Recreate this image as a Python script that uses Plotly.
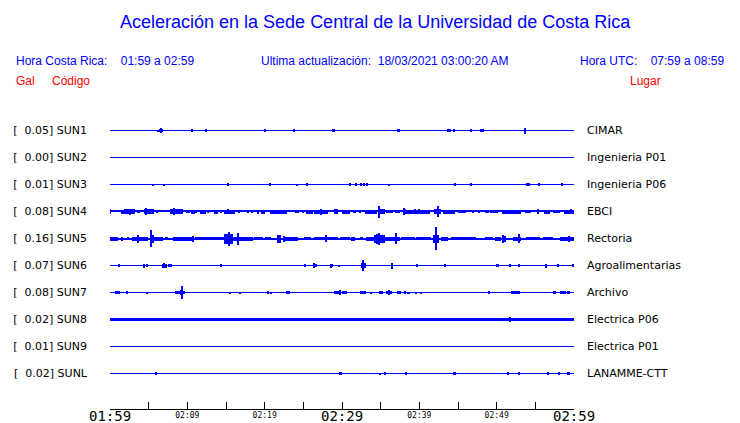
import plotly.graph_objects as go

# estaciones de la red de la Sede Central (de arriba hacia abajo)
codigos = ["SUN1", "SUN2", "SUN3", "SUN4", "SUN5", "SUN6", "SUN7", "SUN8", "SUN9", "SUNL"]
pga_gal = [0.05, 0.00, 0.01, 0.08, 0.16, 0.07, 0.08, 0.02, 0.01, 0.02]
lugares = ["CIMAR", "Ingenieria P01", "Ingenieria P06", "EBCI", "Rectoria",
           "Agroalimentarias", "Archivo", "Electrica P06", "Electrica P01", "LANAMME-CTT"]

# ruido de fondo de cada traza (amplitud minima)
ruido = [0.5, 0.5, 0.5, 0.6, 1.0, 0.5, 0.5, 1.75, 0.5, 0.5]

ev_sun1 = [(6.18, 6.18, 1.0), (6.35, 6.8, 1.7), (6.5, 6.6, 2.3), (10.58, 10.58, 1.5), (12.39, 12.39, 1.5),
           (20.02, 20.02, 1.5), (23.77, 23.77, 1.5), (28.81, 28.81, 1.5), (29.03, 29.03, 1.2),
           (37.2, 37.45, 1.2), (43.69, 43.69, 1.7), (44.03, 44.03, 1.2), (44.46, 44.46, 1.2),
           (46.7, 46.7, 1.2), (48.0, 48.0, 1.2), (48.2, 48.2, 1.2), (53.55, 53.85, 2.0), (53.69, 53.69, 3.0)]
ev_sun2 = []
ev_sun3 = [(5.54, 5.54, 1.0), (6.96, 6.96, 1.0), (15.24, 15.24, 1.5), (20.6, 20.8, 1.5), (24.16, 24.16, 1.0),
           (25.45, 25.45, 1.5), (31.06, 31.06, 1.5), (31.83, 31.83, 1.2), (32.48, 32.48, 1.2),
           (32.8, 33.0, 1.5), (33.21, 33.21, 1.5), (36.14, 36.14, 1.0), (44.59, 44.59, 1.5),
           (46.71, 46.71, 1.5), (53.9, 53.9, 1.5), (54.25, 54.25, 1.5), (55.45, 55.45, 1.5), (58.47, 58.47, 1.5)]
ev_sun4 = [(0.07, 0.07, 2.7), (1.36, 1.79, 2.0), (1.87, 3.17, 2.3), (2.65, 2.65, 3.0), (3.43, 3.94, 1.5),
           (4.38, 5.67, 2.7), (4.72, 4.72, 3.7), (6.06, 6.06, 1.0), (7.82, 9.42, 2.3), (8.25, 8.25, 3.3),
           (9.93, 9.93, 1.5), (10.19, 10.19, 1.5), (10.5, 10.93, 2.0), (11.14, 11.14, 1.5), (11.66, 12.43, 2.0),
           (12.65, 12.65, 1.5), (13.51, 13.94, 2.0), (14.37, 14.37, 1.0), (14.72, 16.1, 2.0), (15.32, 15.32, 2.7),
           (16.74, 16.74, 1.5), (17.82, 17.82, 1.5), (18.25, 18.51, 1.5), (18.99, 19.33, 2.0), (19.55, 20.06, 2.0),
           (20.71, 22.91, 2.0), (24.07, 24.07, 1.5), (24.29, 24.29, 1.5), (25.02, 25.02, 1.0), (25.36, 26.23, 2.0),
           (26.44, 28.17, 2.0), (27.3, 27.3, 3.0), (28.94, 29.46, 2.3), (29.98, 30.97, 2.0), (31.4, 31.83, 1.5),
           (32.18, 32.48, 1.5), (32.91, 34.51, 2.0), (34.64, 35.5, 2.7), (34.77, 34.77, 6.0), (35.71, 36.58, 1.5),
           (36.79, 37.22, 1.5), (37.44, 37.44, 1.5), (37.87, 38.3, 2.3), (38.08, 38.08, 3.7), (38.3, 41.32, 2.0),
           (39.51, 39.51, 2.7), (40.02, 40.02, 2.7), (41.96, 42.83, 2.7), (42.48, 42.48, 5.7), (43.04, 44.55, 2.0),
           (44.98, 46.06, 1.5), (46.92, 46.92, 1.5), (47.78, 47.78, 1.5), (48.51, 48.95, 1.5), (49.08, 50.15, 1.5),
           (50.71, 53.17, 2.0), (53.6, 54.46, 1.5), (55.32, 55.32, 2.7), (56.06, 56.92, 2.0), (57.26, 58.13, 1.5),
           (58.77, 60.0, 2.0), (59.63, 59.63, 2.7)]
ev_sun5 = [(0.0, 1.01, 2.0), (1.36, 1.66, 2.0), (2.39, 2.39, 1.7), (2.82, 4.89, 2.0), (3.6, 3.6, 4.0),
           (5.19, 5.75, 4.0), (5.32, 5.32, 8.7), (5.75, 6.83, 2.0), (7.05, 7.48, 1.7), (8.12, 10.71, 2.0),
           (10.71, 10.71, 3.0), (10.93, 14.8, 1.8), (14.8, 15.9, 5.0), (15.45, 15.45, 7.0), (15.9, 18.47, 2.0),
           (16.53, 16.53, 6.0), (18.68, 19.76, 1.8), (19.98, 20.84, 1.8), (21.62, 22.05, 4.0), (22.56, 24.29, 2.0),
           (22.56, 22.56, 3.0), (25.15, 26.01, 1.8), (26.44, 29.46, 1.8), (27.9, 27.9, 3.5), (29.68, 30.97, 1.8),
           (31.19, 31.62, 2.0), (32.27, 32.7, 1.8), (33.13, 37.44, 2.0), (34.2, 35.5, 4.0), (34.51, 34.51, 5.0),
           (34.85, 34.85, 6.0), (37.01, 37.01, 5.5), (37.65, 39.38, 1.8), (39.59, 41.53, 1.8), (41.75, 42.52, 4.0),
           (42.18, 42.18, 11.7), (42.83, 43.69, 2.0), (44.12, 47.35, 1.8), (48.43, 49.51, 1.8), (49.72, 50.58, 2.0),
           (50.8, 50.8, 4.0), (50.8, 51.23, 3.0), (52.09, 53.17, 2.0), (52.95, 52.95, 4.5), (53.82, 55.54, 1.8),
           (55.97, 57.26, 1.8), (58.13, 60.0, 2.0), (59.42, 59.42, 3.0)]
ev_sun6 = [(1.0, 1.3, 1.2), (4.37, 4.37, 2.0), (4.76, 4.76, 1.5), (6.7, 7.39, 2.0), (7.0, 7.0, 2.5),
           (7.56, 8.04, 1.7), (14.3, 14.45, 1.5), (25.15, 25.35, 1.5), (26.36, 26.36, 2.3), (26.7, 26.7, 1.5),
           (28.6, 28.6, 2.0), (28.7, 28.8, 1.2), (29.59, 29.59, 1.0), (32.5, 33.08, 2.7), (32.78, 32.78, 5.3),
           (36.3, 36.6, 1.5), (36.45, 36.45, 3.0), (39.68, 39.68, 1.5), (43.13, 43.39, 1.5), (49.95, 50.35, 1.5),
           (51.75, 51.75, 1.5), (52.87, 52.87, 1.5), (56.3, 56.45, 2.0), (57.9, 58.1, 1.5), (59.85, 59.85, 1.2)]
ev_sun7 = [(0.71, 1.23, 1.5), (2.18, 2.18, 1.5), (4.76, 4.76, 1.0), (8.43, 9.72, 1.5), (9.1, 9.5, 2.3),
           (9.29, 9.29, 6.3), (15.58, 15.58, 1.0), (16.87, 16.87, 1.0), (20.49, 20.49, 1.5), (20.84, 20.84, 1.0),
           (22.86, 22.86, 1.5), (23.21, 23.21, 1.2), (28.94, 29.68, 1.5), (29.72, 29.72, 2.7), (29.98, 30.63, 1.5),
           (32.35, 33.13, 1.5), (33.77, 33.77, 1.0), (34.77, 35.28, 1.5), (35.71, 36.49, 1.7), (36.06, 36.06, 2.3),
           (37.09, 37.65, 1.5), (38.21, 38.21, 1.5), (38.51, 38.51, 1.0), (38.73, 38.73, 1.0), (39.59, 39.59, 1.0),
           (40.24, 40.24, 1.0), (48.99, 48.99, 1.5), (51.88, 53.04, 1.5), (57.26, 57.7, 1.5), (58.13, 58.99, 1.2),
           (59.2, 59.2, 1.5), (59.42, 59.42, 1.5)]
ev_sun8 = [(51.75, 51.75, 2.7)]
ev_sun9 = []
ev_sunl = [(5.92, 5.92, 1.5), (29.8, 29.8, 1.5), (29.9, 29.9, 1.5), (34.98, 34.98, 1.0), (35.54, 35.54, 1.5),
           (38.3, 38.3, 1.5), (44.46, 44.46, 1.5), (44.64, 44.64, 1.5), (51.45, 51.45, 1.5), (52.87, 52.87, 1.5),
           (56.62, 56.62, 1.5), (58.13, 58.13, 1.5), (59.2, 59.42, 1.5)]
eventos = [ev_sun1, ev_sun2, ev_sun3, ev_sun4, ev_sun5, ev_sun6, ev_sun7, ev_sun8, ev_sun9, ev_sunl]

# eje de tiempo: minutos desde 01:59
minutos_ticks = list(range(0, 61, 5))
etiq_grandes = {0: "01:59", 30: "02:29", 60: "02:59"}
etiq_chicas = {10: "02:09", 20: "02:19", 40: "02:39", 50: "02:49"}

AZUL = "#0000ff"
ROJO = "#ff0000"
SEP = 27  # separacion entre trazas
offsets = [i * SEP for i in range(len(codigos))]

# la pagina html deja 8 px de margen en el body: la figura se corre 8 px
BODY = 8
W, H = 740 - BODY, 423 - BODY
ML, MR, MT, MB = 110 - BODY, 166, 115 - BODY, 14
PW, PH = W - ML - MR, H - MT - MB
Y_RANGO = [278.5, -15.5]  # 1 unidad = 1 px, trazas centradas en el pixel

fig = go.Figure()

for i, cod in enumerate(codigos):
    y0 = offsets[i]
    # linea base (ruido) como banda delgada
    fig.add_trace(go.Bar(
        x=[30], y=[2 * ruido[i]], base=[y0 - ruido[i]], width=[60],
        marker=dict(color=AZUL, line=dict(width=0)), showlegend=False, hoverinfo="skip"
    ))
    ev = eventos[i]
    if ev:
        xs = [(a + b) / 2 for a, b, _ in ev]
        ws = [max(b - a, 0.16) for a, b, _ in ev]
        amps = [c for _, _, c in ev]
        fig.add_trace(go.Bar(
            x=xs, y=[2 * a for a in amps], base=[y0 - a for a in amps], width=ws,
            marker=dict(color=AZUL, line=dict(width=0)), name=cod, showlegend=False,
            hovertemplate=cod + " %{x:.1f} min<extra></extra>"
        ))

# traza vacia para que se dibujen los ejes superpuestos
fig.add_trace(go.Scatter(x=[None], y=[None], yaxis="y2", xaxis="x2", showlegend=False, hoverinfo="skip"))

etiq_izq = ["[\u00a0\u00a0%.2f] %s" % (g, c) for g, c in zip(pga_gal, codigos)]

fig.update_layout(
    width=W, height=H,
    margin=dict(l=ML, r=MR, t=MT, b=MB, autoexpand=False),
    paper_bgcolor="white", plot_bgcolor="white",
    barmode="overlay", bargap=0,
    showlegend=False,
    xaxis=dict(
        range=[0, 60], tickmode="array", tickvals=minutos_ticks,
        ticktext=["" for m in minutos_ticks],
        ticks="inside", ticklen=7, tickcolor="black", tickwidth=1,
        showline=True, linecolor="black", linewidth=1, mirror=False,
        showgrid=False, zeroline=False, automargin=False,
    ),
    xaxis2=dict(
        range=[0, 60], overlaying="x", side="bottom", anchor="y",
        tickmode="array", tickvals=list(etiq_chicas.keys()), ticktext=list(etiq_chicas.values()),
        ticks="", showline=False, showgrid=False, zeroline=False, automargin=False,
        tickfont=dict(family="DejaVu Sans Mono", size=8, color="black"),
    ),
    yaxis=dict(
        range=Y_RANGO, tickmode="array", tickvals=offsets, ticktext=etiq_izq,
        ticks="", showline=False, showgrid=False, zeroline=False, ticklabelstandoff=22,
        automargin=False,
        tickfont=dict(family="DejaVu Sans", size=11, color="black"),
    ),
    yaxis2=dict(
        range=Y_RANGO, overlaying="y", side="right", anchor="x",
        tickmode="array", tickvals=offsets, ticktext=lugares,
        ticks="", showline=False, showgrid=False, zeroline=False, ticklabelstandoff=12,
        automargin=False,
        tickfont=dict(family="DejaVu Sans", size=11, color="black"),
    ),
)

# etiquetas grandes del eje de tiempo (01:59, 02:29, 02:59)
for m, txt in etiq_grandes.items():
    fig.add_annotation(xref="x", yref="paper", x=m, y=-6.5 / PH, text=txt, showarrow=False,
                       xanchor="center", yanchor="middle", borderpad=0,
                       font=dict(family="DejaVu Sans Mono", size=14, color="black"))

hdr = dict(family="Liberation Sans, Arial, sans-serif", size=12, color=AZUL)
anots = [
    dict(text="Aceleración en la Sede Central de la Universidad de Costa Rica", x=375, y=22,
         font=dict(family="Liberation Sans, Arial, sans-serif", size=18, color=AZUL), xanchor="center"),
    dict(text="Hora Costa Rica:\u00a0\u00a0\u00a0 01:59 a 02:59", x=15, y=61, font=hdr, xanchor="left"),
    dict(text="Ultima actualización:\u00a0 18/03/2021 03:00:20 AM", x=260, y=61, font=hdr, xanchor="left"),
    dict(text="Hora UTC:\u00a0\u00a0\u00a0 07:59 a 08:59", x=725, y=61, font=hdr, xanchor="right"),
    dict(text="Gal", x=15, y=81, font=dict(hdr, color=ROJO), xanchor="left"),
    dict(text="Código", x=51, y=81, font=dict(hdr, color=ROJO), xanchor="left"),
    dict(text="Lugar", x=662, y=81, font=dict(hdr, color=ROJO), xanchor="right"),
]
# posiciones de cabecera en pixeles de la ventana -> coordenadas paper del area de trazado
for a in anots:
    px, py = a["x"] - BODY, a["y"] - BODY
    fig.add_annotation(xref="paper", yref="paper", x=(px - ML) / PW, y=(H - MB - py) / PH,
                       text=a["text"], font=a["font"], xanchor=a["xanchor"], yanchor="middle",
                       showarrow=False, borderpad=0)

fig.write_html("out.html")
